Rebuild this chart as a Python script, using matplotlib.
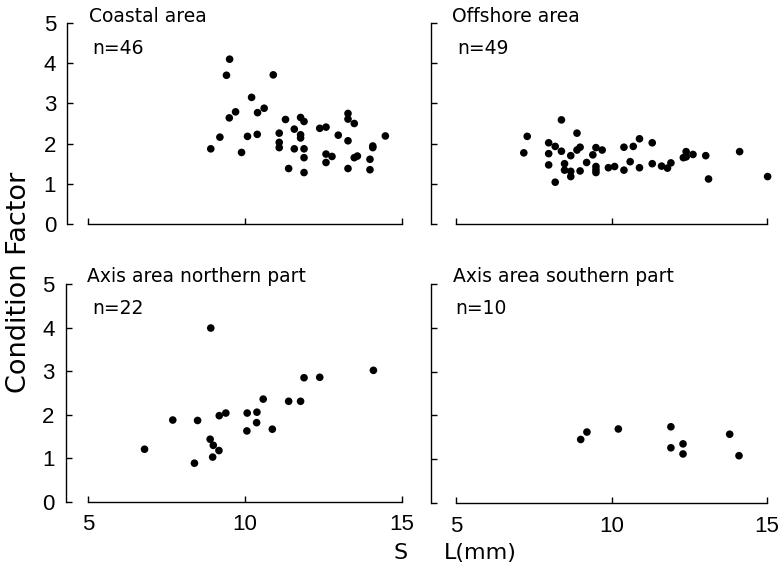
import numpy as np
import matplotlib
matplotlib.use("Agg")
import matplotlib.pyplot as plt

plt.rcParams["font.family"] = ["Liberation Sans", "DejaVu Sans"]

# Coastal area (n=46)
coastal_sl = [8.91, 9.20, 9.89, 9.41, 9.51, 9.50, 9.70, 10.08, 10.21, 10.40,
              10.39, 10.61, 10.90, 11.09, 11.09, 11.09, 11.29, 11.39, 11.57, 11.57,
              11.77, 11.88, 11.77, 11.77, 11.88, 11.88, 11.88, 12.38, 12.58, 12.58,
              12.58, 12.77, 12.97, 13.28, 13.28, 13.48, 13.28, 13.28, 13.48, 13.58,
              13.98, 13.98, 14.07, 14.07, 14.47]
coastal_cf = [1.87, 2.16, 1.78, 3.70, 4.10, 2.64, 2.79, 2.18, 3.15, 2.77,
              2.23, 2.88, 3.71, 2.26, 2.03, 1.90, 2.60, 1.38, 2.36, 1.87,
              2.65, 2.55, 2.22, 2.14, 1.87, 1.65, 1.28, 2.38, 2.41, 1.74,
              1.53, 1.68, 2.21, 2.75, 2.61, 2.50, 2.07, 1.38, 1.65, 1.69,
              1.61, 1.35, 1.90, 1.94, 2.19]

# Offshore area (n=49)
offshore_sl = [7.18, 7.29, 7.98, 7.98, 7.98, 8.19, 8.19, 8.39, 8.39, 8.49,
               8.49, 8.69, 8.69, 8.69, 8.89, 8.89, 8.99, 8.99, 9.20, 9.40,
               9.50, 9.50, 9.50, 9.50, 9.70, 9.90, 10.10, 10.40, 10.40, 10.60,
               10.70, 10.90, 10.90, 11.31, 11.31, 11.61, 11.80, 11.91, 12.31, 12.40,
               12.40, 12.62, 13.03, 13.12, 14.12, 15.02]
offshore_cf = [1.77, 2.18, 2.02, 1.75, 1.47, 1.93, 1.04, 2.59, 1.81, 1.50,
               1.34, 1.70, 1.31, 1.18, 2.26, 1.84, 1.91, 1.32, 1.53, 1.72,
               1.90, 1.43, 1.35, 1.28, 1.84, 1.40, 1.43, 1.91, 1.34, 1.55,
               1.93, 2.12, 1.40, 2.02, 1.50, 1.44, 1.39, 1.52, 1.65, 1.80,
               1.67, 1.73, 1.70, 1.12, 1.80, 1.18]

# Axis area northern part (n=22)
north_sl = [6.80, 7.70, 8.39, 8.49, 8.91, 8.89, 8.99, 8.97, 9.17, 9.18, 9.39,
            10.07, 10.06, 10.38, 10.37, 10.58, 10.87, 11.39, 11.77, 11.88, 12.38, 14.09]
north_cf = [1.21, 1.88, 0.89, 1.87, 3.99, 1.44, 1.30, 1.03, 1.18, 1.98, 2.04,
            2.04, 1.63, 2.06, 1.82, 2.36, 1.67, 2.31, 2.31, 2.85, 2.86, 3.02]

# Axis area southern part (n=10)
south_sl = [9.01, 9.21, 10.22, 11.91, 11.91, 12.30, 12.30, 13.80, 14.10]
south_cf = [1.45, 1.62, 1.69, 1.74, 1.26, 1.35, 1.12, 1.57, 1.08]

titles = ["Coastal area", "Offshore area", "Axis area northern part", "Axis area southern part"]
n_labels = ["n=46", "n=49", "n=22", "n=10"]
x_ticks = [5, 10, 15]
y_ticks = [0, 1, 2, 3, 4, 5]

W, H = 782, 569
fig = plt.figure(figsize=(W / 100, H / 100), dpi=100)

# axes boxes in pixels: (left, top, right, bottom) of data area
boxes = [(88, 23, 402, 224), (456, 23, 767, 224),
         (88, 284, 402, 502), (456, 284, 767, 503)]
datasets = [(coastal_sl, coastal_cf), (offshore_sl, offshore_cf),
            (north_sl, north_cf), (south_sl, south_cf)]
spine_offsets = [15, 18, 16, 18]
title_dx = [1, -4, -1, -3]
n_dx = [4, 1, 4, -1]

for i, ((l, t, r, b), (xs, ys)) in enumerate(zip(boxes, datasets)):
    ax = fig.add_axes([l / W, 1 - b / H, (r - l) / W, (b - t) / H])
    ax.scatter(xs, ys, s=30, color="black", edgecolors="none", clip_on=False)
    ax.set_xlim(5, 15)
    ax.set_ylim(0, 5)
    ax.set_xticks(x_ticks)
    ax.set_yticks(y_ticks)
    for side in ["top", "right"]:
        ax.spines[side].set_visible(False)
    ax.spines["left"].set_position(("outward", spine_offsets[i]))
    ax.spines["left"].set_bounds(0, 5)
    ax.spines["bottom"].set_bounds(5, 15)
    for side in ["left", "bottom"]:
        ax.spines[side].set_linewidth(1.0)
    ax.tick_params(direction="in", length=4, width=1, labelsize=16)
    ax.tick_params(axis="x", pad=9)
    ax.tick_params(axis="y", pad=8)
    if i % 2 == 1:
        ax.set_yticklabels([])
    if i < 2:
        ax.set_xticklabels([])
    fig.text((l + title_dx[i]) / W, 1 - (t - 7) / H, titles[i], fontsize=13.5,
             family="DejaVu Sans", va="center", ha="left")
    fig.text((l + n_dx[i]) / W, 1 - (t + 25) / H, n_labels[i], fontsize=13.5,
             family="DejaVu Sans", va="center", ha="left")

fig.text(19 / W, 1 - 282 / H, "Condition Factor", rotation=90, fontsize=19.5,
         family="DejaVu Sans", va="center", ha="center")
fig.text(401 / W, 1 - 553 / H, "S", fontsize=16, family="DejaVu Sans", va="center", ha="center")
fig.text(444 / W, 1 - 553 / H, "L(mm)", fontsize=16, family="DejaVu Sans", va="center", ha="left")

fig.savefig("out.png", dpi=100)
